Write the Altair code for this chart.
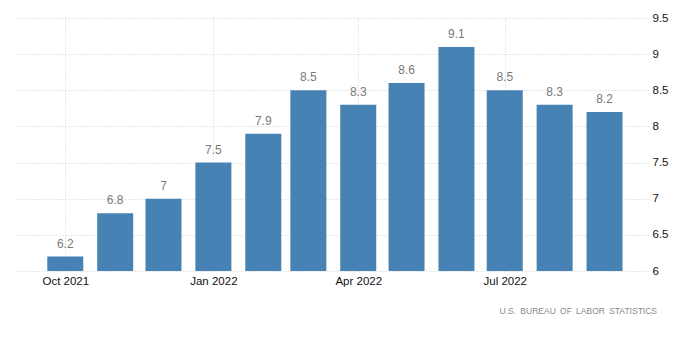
import altair as alt
import pandas as pd

months = ["2021-10-01", "2021-11-01", "2021-12-01", "2022-01-01", "2022-02-01", "2022-03-01",
          "2022-04-01", "2022-05-01", "2022-06-01", "2022-07-01", "2022-08-01", "2022-09-01"]
values = [6.2, 6.8, 7.0, 7.5, 7.9, 8.5, 8.3, 8.6, 9.1, 8.5, 8.3, 8.2]
y_ticks = [6, 6.5, 7, 7.5, 8, 8.5, 9, 9.5]
x_ticks = [(2021, 10), (2022, 1), (2022, 4), (2022, 7)]
source = "U.S.\u2002BUREAU\u2002OF\u2002LABOR\u2002STATISTICS"

df = pd.DataFrame({"date": months, "value": values})

FONT = "Liberation Sans"
grid_color = "#d0d0d0"

x_enc = alt.X(
    "date:T",
    scale=alt.Scale(type="utc", padding=0,
                    domain=[alt.DateTime(year=2021, month=9, date=1, utc=True),
                            alt.DateTime(year=2022, month=9, date=28, utc=True)]),
    axis=alt.Axis(
        values=[alt.DateTime(year=y, month=m, date=1, utc=True) for y, m in x_ticks],
        format="%b %Y", title=None, domain=False, ticks=False,
        labelFont=FONT, labelFontSize=11.5, labelColor="#111", labelPadding=4,
        grid=True, gridColor=grid_color, gridDash=[1, 2], labelFlush=False,
        labelOverlap=False,
    ),
)

y_enc = alt.Y(
    "value:Q",
    scale=alt.Scale(domain=[6, 9.5], nice=False, zero=False),
    axis=alt.Axis(
        orient="right", values=y_ticks, format="~g", title=None, domain=False,
        ticks=False, labelPadding=4, labelFont=FONT, labelFontSize=11.5,
        labelColor="#111", grid=True, gridColor=grid_color, gridDash=[1, 2],
        labelFlush=False, labelOverlap=False,
    ),
)

base = alt.Chart(df)

bars = base.mark_bar(color="#4682b4", width=36).encode(
    x=x_enc, y=y_enc, y2=alt.datum(6)
)

labels = base.mark_text(
    baseline="bottom", dy=-6, font=FONT, fontSize=12, color="#7a7a7a"
).encode(
    x=x_enc, y=y_enc, text=alt.Text("value:Q", format="~g")
)

chart = alt.layer(bars, labels).properties(
    width=631, height=253,
    padding={"left": 9, "top": 4, "right": 5, "bottom": 5},
    title=alt.TitleParams(
        text=source, orient="bottom", anchor="end", frame="group",
        font=FONT, fontSize=8.5, fontWeight="normal", color="#8a8a8a", offset=20, dx=9,
    ),
).configure(background="white").configure_view(strokeWidth=0, stroke=None)

chart.save("out.html", embed_options={"renderer": "svg", "actions": False})
